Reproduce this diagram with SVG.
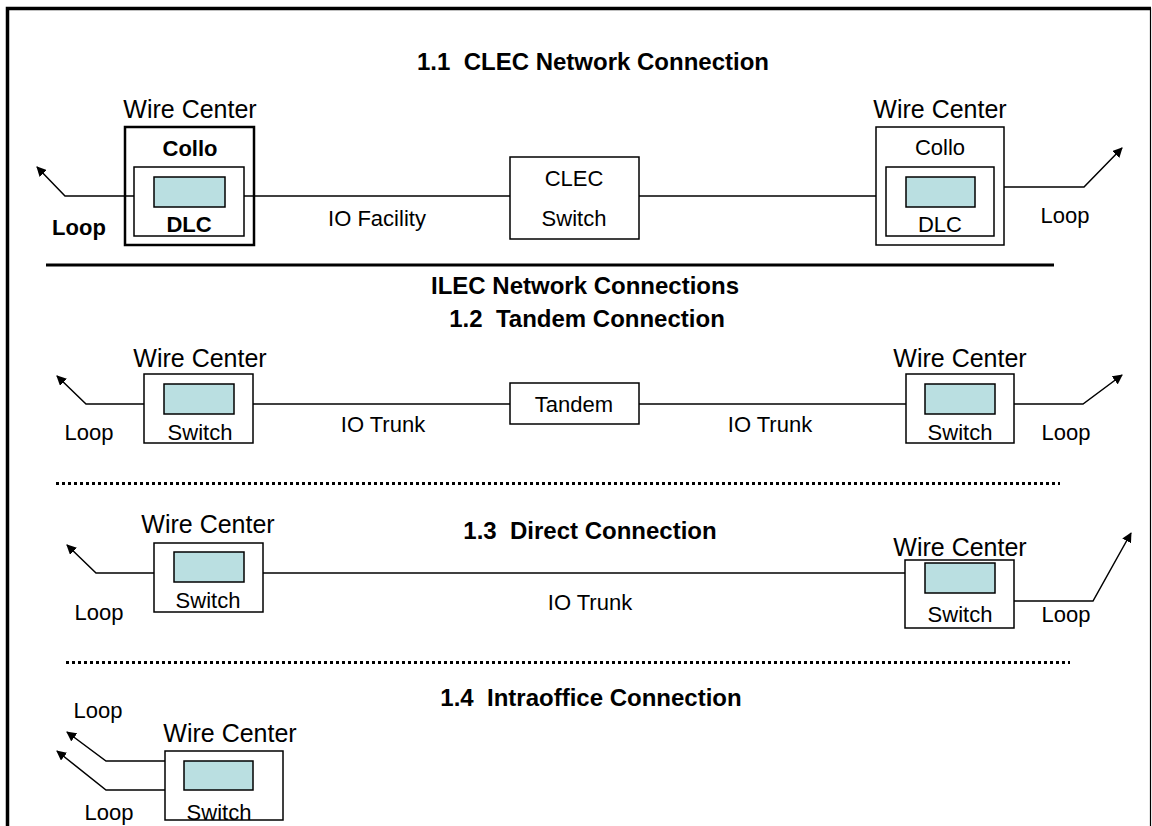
<svg xmlns="http://www.w3.org/2000/svg" width="1152" height="826" viewBox="0 0 1152 826">
<defs>
<marker id="ah" viewBox="0 0 10 10" refX="9" refY="5" markerWidth="10" markerHeight="10" markerUnits="userSpaceOnUse" orient="auto">
<path d="M0,0 L10,5 L0,10 z" fill="#000"/>
</marker>
<style>
text{font-family:"Liberation Sans",Arial,sans-serif;fill:#000}
.t{font-size:24px;font-weight:bold;text-anchor:middle;white-space:pre}
.wc{font-size:25px;text-anchor:middle}
.l{font-size:22px;text-anchor:middle}
.b{font-weight:bold}
.box{fill:#fff;stroke:#000;stroke-width:1.5}
.tk{fill:none;stroke:#000;stroke-width:2.5}
.eq{fill:#BADFE1;stroke:#000;stroke-width:1.5}
.ln{fill:none;stroke:#000;stroke-width:1.5}
.ar{fill:none;stroke:#000;stroke-width:1.5;marker-end:url(#ah)}
</style>
</defs>
<rect width="1152" height="826" fill="#fff"/>
<g id="frame">
<path d="M7.5,826 V8.5 H1151" fill="none" stroke="#000" stroke-width="3.5"/>
<path d="M1150.5,8 V826" fill="none" stroke="#000" stroke-width="1.2"/>
<line x1="46" y1="265" x2="1054" y2="265" stroke="#000" stroke-width="3"/>
<line x1="56" y1="483.5" x2="1060" y2="483.5" stroke="#000" stroke-width="3" stroke-dasharray="3,3"/>
<line x1="66" y1="662.5" x2="1070" y2="662.5" stroke="#000" stroke-width="3" stroke-dasharray="3,3"/>
</g>
<g id="titles">
<text class="t" x="593" y="70" xml:space="preserve">1.1  CLEC Network Connection</text>
<text class="t" x="585" y="294">ILEC Network Connections</text>
<text class="t" x="587" y="327" xml:space="preserve">1.2  Tandem Connection</text>
<text class="t" x="590" y="539" xml:space="preserve">1.3  Direct Connection</text>
<text class="t" x="591" y="706" xml:space="preserve">1.4  Intraoffice Connection</text>
</g>
<g id="connectors">
<path class="ar" d="M154,196 H65 L37,167"/>
<line class="ln" x1="225" y1="196" x2="510" y2="196"/>
<line class="ln" x1="639" y1="196" x2="906" y2="196"/>
<path class="ar" d="M975,187 H1084 L1122,148"/>
<path class="ar" d="M164,404 H86 L57,376"/>
<line class="ln" x1="234" y1="404" x2="510" y2="404"/>
<line class="ln" x1="639" y1="404" x2="925" y2="404"/>
<path class="ar" d="M995,404 H1083 L1122,375"/>
<path class="ar" d="M174,573 H96 L67,545"/>
<line class="ln" x1="244" y1="573" x2="925" y2="573"/>
<path class="ar" d="M1014,601 H1093 L1131,533"/>
<path class="ar" d="M184,761 H106 L67,732"/>
<path class="ar" d="M184,790 H106 L57,751"/>
</g>
<g id="wc11L">
<text class="wc" x="190" y="118">Wire Center</text>
<rect class="tk" x="125" y="127" width="129" height="118"/>
<text class="l b" x="190" y="156">Collo</text>
<rect class="box" x="134" y="167" width="110" height="69" fill="none"/>
<rect class="eq" x="154" y="177" width="71" height="30"/>
<text class="l b" x="189" y="232">DLC</text>
<text class="l b" x="79" y="235">Loop</text>
</g>
<g id="clecSwitch">
<rect class="box" x="510" y="157" width="129" height="82"/>
<text class="l" x="574" y="186">CLEC</text>
<text class="l" x="574" y="226">Switch</text>
</g>
<text class="l" x="377" y="226">IO Facility</text>
<g id="wc11R">
<text class="wc" x="940" y="118">Wire Center</text>
<rect class="box" x="876" y="127" width="128" height="118"/>
<text class="l" x="940" y="155">Collo</text>
<rect class="box" x="886" y="167" width="108" height="69"/>
<rect class="eq" x="906" y="177" width="69" height="30"/>
<text class="l" x="940" y="232">DLC</text>
<text class="l" x="1065" y="223">Loop</text>
</g>
<g id="wc12L">
<text class="wc" x="200" y="367">Wire Center</text>
<rect class="box" x="144" y="374" width="109" height="69"/>
<rect class="eq" x="164" y="384" width="70" height="30"/>
<text class="l" x="200" y="440">Switch</text>
<text class="l" x="89" y="440">Loop</text>
</g>
<g id="tandem">
<rect class="box" x="510" y="383" width="129" height="41"/>
<text class="l" x="574" y="412">Tandem</text>
</g>
<text class="l" x="383" y="432">IO Trunk</text>
<text class="l" x="770" y="432">IO Trunk</text>
<g id="wc12R">
<text class="wc" x="960" y="367">Wire Center</text>
<rect class="box" x="906" y="374" width="108" height="69"/>
<rect class="eq" x="925" y="384" width="70" height="30"/>
<text class="l" x="960" y="440">Switch</text>
<text class="l" x="1066" y="440">Loop</text>
</g>
<g id="wc13L">
<text class="wc" x="208" y="533">Wire Center</text>
<rect class="box" x="154" y="543" width="109" height="69"/>
<rect class="eq" x="174" y="552" width="70" height="30"/>
<text class="l" x="208" y="608">Switch</text>
<text class="l" x="99" y="620">Loop</text>
</g>
<text class="l" x="590" y="610">IO Trunk</text>
<g id="wc13R">
<text class="wc" x="960" y="556">Wire Center</text>
<rect class="box" x="905" y="560" width="109" height="68"/>
<rect class="eq" x="925" y="563" width="70" height="30"/>
<text class="l" x="960" y="622">Switch</text>
<text class="l" x="1066" y="622">Loop</text>
</g>
<g id="wc14">
<text class="l" x="98" y="718">Loop</text>
<text class="wc" x="230" y="742">Wire Center</text>
<rect class="box" x="165" y="751" width="118" height="69"/>
<rect class="eq" x="184" y="761" width="69" height="29"/>
<text class="l" x="219" y="820">Switch</text>
<text class="l" x="109" y="820">Loop</text>
</g>
</svg>
